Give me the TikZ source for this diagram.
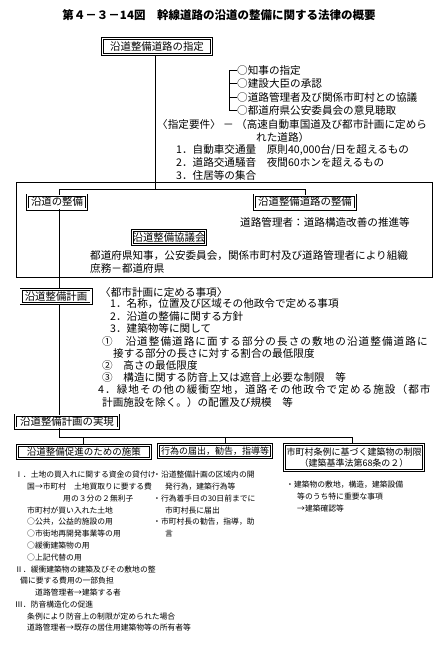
\documentclass[tikz,border=0pt]{standalone}
\usepackage{fontspec}
\newfontfamily\jp{Noto Sans CJK JP}
\newfontfamily\jpw{Noto Sans CJK JP}[LetterSpace=10]
\begin{document}
\begin{tikzpicture}[x=1pt,y=-1pt,
  dbox/.style={draw, double, double distance=1.3pt, line width=0.85pt, inner sep=0pt, align=center, font=\jp\fontsize{10.4}{12.5}\selectfont},
  sbox/.style={dbox, font=\jp\fontsize{9}{11}\selectfont},
  mt/.style={anchor=west, inner sep=0pt, font=\jp\fontsize{10.6}{12}\selectfont},
  wt/.style={anchor=west, inner sep=0pt, font=\jpw\fontsize{10.6}{12}\selectfont},
  st/.style={anchor=west, inner sep=0pt, font=\jp\fontsize{7.8}{10}\selectfont},
  ln/.style={line width=0.7pt}]
\fill[white] (0,0) rectangle (440,648);
\useasboundingbox (0,0) rectangle (440,648);

% title
\node[font=\jp\bfseries\fontsize{11.5}{13}\selectfont] (title) at (219,15) {第４－３－14図　幹線道路の沿道の整備に関する法律の概要};

% top box
\node[dbox, minimum width=109, minimum height=16] (sitei) at (157,46.5) {沿道整備道路の指定};

% bracket list
\node[mt] (k1) at (237,70) {○知事の指定};
\node[mt] (k2) at (237,83.5) {○建設大臣の承認};
\node[mt] (k3) at (237,97) {○道路管理者及び関係市町村との協議};
\node[mt] (k4) at (237,110.5) {○都道府県公安委員会の意見聴取};
\draw[ln] (k1.west) -- ++(-8,0) coordinate (bt) -- (bt |- k4.west) -- (k4.west);
\draw[ln] (k2.west) -- (k2.west -| bt);
\draw[ln] (k3.west) -- (k3.west -| bt);

\node[mt] (y0) at (157,124) {〈指定要件〉 － （高速自動車国道及び都市計画に定めら};
\node[mt] (y0b) at (256,137) {れた道路）};
\node[mt] (y1) at (176,150) {1．自動車交通量　原則40,000台/日を超えるもの};
\node[mt] (y2) at (176,162.5) {2．道路交通騒音　夜間60ホンを超えるもの};
\node[mt] (y3) at (176,175) {3．住居等の集合};

% big box
\draw[ln] (16,182) rectangle (432,277);
\coordinate (hL) at (59,189);
\coordinate (hM) at (155,189);
\coordinate (hR) at (305,189);
\draw[ln] (sitei.south -| hM) -- (hM);
\draw[ln] (hL) -- (hR);

\node[dbox, minimum width=59, minimum height=14] (endou) at (57,202) {沿道の整備};
\node[dbox, minimum width=101, minimum height=14] (douro) at (305,202) {沿道整備道路の整備};
\draw[ln] (hL) -- (hL |- endou.north);
\draw[ln] (hR) -- (douro.north);
\node[mt] (dk) at (240,222) {道路管理者：道路構造改善の推進等};
\node[dbox, minimum width=72, minimum height=14] (kyougi) at (169,237.5) {沿道整備協議会};
\node[mt] (kt1) at (90,256) {都道府県知事，公安委員会，関係市町村及び道路管理者により組織};
\node[mt] (kt2) at (90,268) {庶務－都道府県};

% plan
\node[dbox, minimum width=70, minimum height=14] (keikaku) at (56,296.5) {沿道整備計画};
\draw[ln] (endou.south -| hL) -- (keikaku.north -| hL);
\node[mt] (p0) at (100,292) {〈都市計画に定める事項〉};
\node[mt] (p1) at (110,304) {1．名称，位置及び区域その他政令で定める事項};
\node[mt] (p2) at (110,316.5) {2．沿道の整備に関する方針};
\node[mt] (p3) at (110,328.7) {3．建築物等に関して};
\node[wt] (p4) at (102,341) {①　沿道整備道路に面する部分の長さの敷地の沿道整備道路に};
\node[mt] (p5) at (113,353) {接する部分の長さに対する割合の最低限度};
\node[mt] (p6) at (102,365.3) {②　高さの最低限度};
\node[mt] (p7) at (102,377.5) {③　構造に関する防音上又は遮音上必要な制限　等};
\node[wt] (p8) at (98,390) {4．緑地その他の緩衝空地，道路その他政令で定める施設（都市};
\node[mt] (p9) at (102,402) {計画施設を除く。）の配置及び規模　等};

% realisation
\node[dbox, minimum width=103, minimum height=13] (jitsugen) at (67,421.5) {沿道整備計画の実現};
\draw[ln] (keikaku.south -| hL) -- (jitsugen.north -| hL);
\coordinate (gL) at (59,437);
\coordinate (g1) at (83,437);
\coordinate (g2) at (225,437);
\coordinate (g3) at (352,437);
\draw[ln] (jitsugen.south -| gL) -- (gL) -- (g3);

\node[sbox, minimum width=133, minimum height=13, font=\jp\fontsize{9.5}{11}\selectfont] (A) at (84,452) {沿道整備促進のための施策};
\node[sbox, minimum width=113, minimum height=13] (B) at (215,451) {行為の届出，勧告，指導等};
\node[sbox, minimum width=139, minimum height=26] (C) at (354,457.5) {市町村条例に基づく建築物の制限\\（建築基準法第68条の２）};
\draw[ln] (g1) -- (g1 |- A.north);
\draw[ln] (g2) -- (g2 |- B.north);
\draw[ln] (g3) -- (g3 |- C.north);

% left column
\node[st] (a1) at (15,475) {Ⅰ．土地の買入れに関する資金の貸付け};
\node[st] (a2) at (27,486.8) {国→市町村　土地買取りに要する費};
\node[st] (a3) at (63,498.5) {用の３分の２無利子};
\node[st] (a4) at (27,510.3) {市町村が買い入れた土地};
\node[st] (a5) at (27,522) {○公共，公益的施設の用};
\node[st] (a6) at (27,533.8) {○市街地再開発事業等の用};
\node[st] (a7) at (27,545.6) {○緩衝建築物の用};
\node[st] (a8) at (27,557.4) {○上記代替の用};
\node[st] (a9) at (15,569.1) {Ⅱ．緩衝建築物の建築及びその敷地の整};
\node[st] (a10) at (20,580.9) {備に要する費用の一部負担};
\node[st] (a11) at (35,592.6) {道路管理者→建築する者};
\node[st] (a12) at (15,604.4) {Ⅲ．防音構造化の促進};
\node[st] (a13) at (27,616.2) {条例により防音上の制限が定められた場合};
\node[st] (a14) at (27,628) {道路管理者→既存の居住用建築物等の所有者等};

% middle column
\node[st] (b1) at (153,475) {・沿道整備計画の区域内の開};
\node[st] (b2) at (165,486.8) {発行為，建築行為等};
\node[st] (b3) at (153,498.5) {・行為着手日の30日前までに};
\node[st] (b4) at (165,510.3) {市町村長に届出};
\node[st] (b5) at (153,522) {・市町村長の勧告，指導，助};
\node[st] (b6) at (165,533.8) {言};

% right column
\node[st] (c1) at (286,485) {・建築物の敷地，構造，建築設備};
\node[st] (c2) at (297,496.8) {等のうち特に重要な事項};
\node[st] (c3) at (297,508.5) {→建築確認等};
\end{tikzpicture}
\end{document}
